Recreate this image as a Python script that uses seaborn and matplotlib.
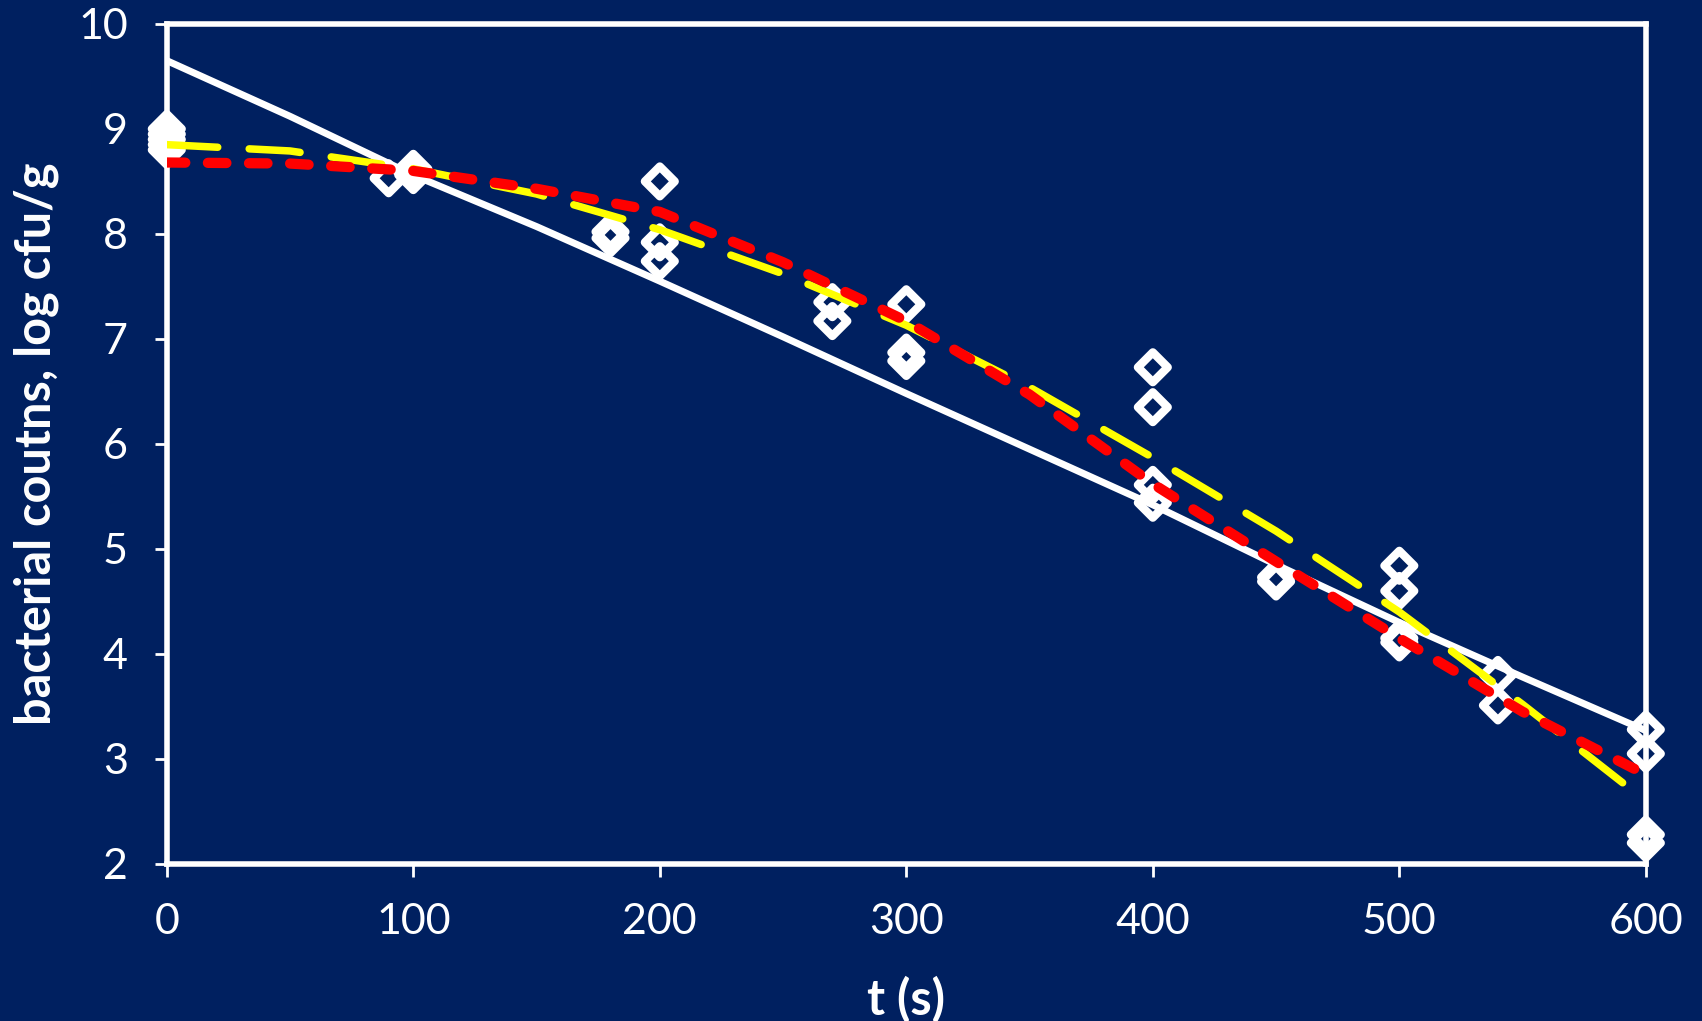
import matplotlib
matplotlib.use("Agg")
import matplotlib.pyplot as plt
import seaborn as sns
import pandas as pd

# observed data
t_obs = [0, 0, 0, 0, 0, 90, 100, 100, 180, 180, 200, 200, 200, 270, 270,
         300, 300, 300, 400, 400, 400, 400, 450, 450, 500, 500, 500, 500,
         540, 540, 600, 600, 600, 600]
log_obs = [9.0, 8.95, 8.9, 8.85, 8.8, 8.53, 8.62, 8.56, 8.02, 7.96, 8.5, 7.92, 7.74,
           7.35, 7.17, 7.33, 6.87, 6.79, 6.73, 6.35, 5.61, 5.44, 4.73, 4.69,
           4.84, 4.6, 4.15, 4.11, 3.8, 3.51, 3.28, 3.05, 2.28, 2.2]

# fitted curves
t_fit = [0, 50, 100, 150, 200, 250, 300, 350, 400, 450, 500, 550, 600]
white_fit = [9.65, 9.12, 8.56, 8.07, 7.55, 7.02, 6.48, 5.95, 5.42, 4.85, 4.3, 3.78, 3.27]
yellow_fit = [8.85, 8.79, 8.62, 8.38, 8.04, 7.62, 7.13, 6.54, 5.87, 5.17, 4.4, 3.52, 2.6]
red_fit = [8.68, 8.67, 8.6, 8.43, 8.21, 7.73, 7.17, 6.47, 5.62, 4.88, 4.15, 3.45, 2.85]

x_ticks = [0, 100, 200, 300, 400, 500, 600]
y_ticks = [2, 3, 4, 5, 6, 7, 8, 9, 10]

navy = "#002060"
sns.set_style("white")
plt.rcParams["font.family"] = ["Lato", "DejaVu Sans"]

fig = plt.figure(figsize=(17.02, 10.21), dpi=100, facecolor=navy)
ax = fig.add_axes([0.098, 0.1538, 0.869, 0.8228])
ax.set_facecolor(navy)

obs = pd.DataFrame({"t": t_obs, "logN": log_obs})
fit = pd.DataFrame({"t": t_fit, "white": white_fit, "yellow": yellow_fit, "red": red_fit})

sns.scatterplot(data=obs, x="t", y="logN", ax=ax, marker="D", s=230,
                zorder=3, clip_on=False, legend=False)
for coll in ax.collections:
    coll.set_facecolor("none")
    coll.set_edgecolor("white")
    coll.set_linewidth(6)

sns.lineplot(data=fit, x="t", y="white", ax=ax, color="white", linewidth=5.0,
             zorder=4, legend=False)
sns.lineplot(data=fit, x="t", y="yellow", ax=ax, color="#FFFF00", linewidth=5.4,
             linestyle=(0, (6.8, 4.2)), dash_capstyle="round", zorder=5, legend=False)
sns.lineplot(data=fit, x="t", y="red", ax=ax, color="#FF0000", linewidth=7.4,
             linestyle=(0, (1.8, 2.2)), dash_capstyle="round", zorder=6, legend=False)

ax.set_xlim(0, 600)
ax.set_ylim(2, 10)
ax.set_xticks(x_ticks)
ax.set_yticks(y_ticks)
ax.set_xticklabels([str(v) for v in x_ticks])
ax.set_yticklabels([str(v) for v in y_ticks])

for sp in ax.spines.values():
    sp.set_visible(True)
    sp.set_color("white")
    sp.set_linewidth(4)

ax.tick_params(axis="both", which="major", direction="out", length=9, width=2,
               color="white", labelcolor="white", labelsize=31, pad=19,
               bottom=True, left=True, top=False, right=False)

ax.set_xlabel("t (s)", color="white", fontsize=35, fontweight="bold", labelpad=25)
ax.set_ylabel("bacterial coutns, log cfu/g", color="white", fontsize=35,
              fontweight="bold", labelpad=14)

fig.savefig("out.png", dpi=100, facecolor=navy)
